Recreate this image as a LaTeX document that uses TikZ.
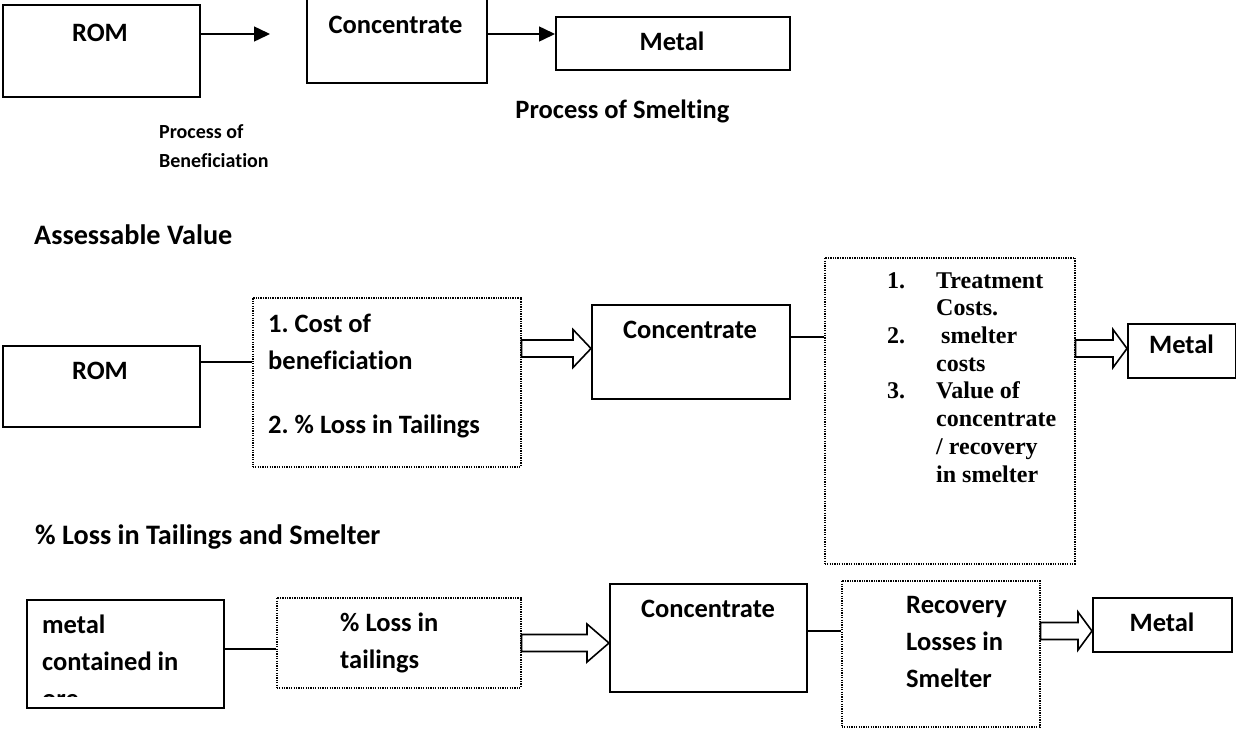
\documentclass[tikz,border=0pt]{standalone}
\usepackage{fontspec}
\setmainfont{Carlito}[Ligatures={NoCommon}]
\newfontfamily\tnr{Liberation Serif}
\usetikzlibrary{arrows.meta,calc}
\frenchspacing
\tikzset{
  box/.style={draw, line width=1.6pt, rectangle, inner sep=0pt, anchor=north west},
  dbox/.style={draw, line width=1.5pt, dash pattern=on 1.3pt off 1.1pt, rectangle, inner sep=0pt, anchor=north west},
  lbl/.style={font=\bfseries\fontsize{26.5}{37}\selectfont, inner sep=0pt, anchor=base},
  lbll/.style={lbl, anchor=base west, align=left},
  heading/.style={font=\bfseries\fontsize{28.2}{37}\selectfont, inner sep=0pt, anchor=base west},
  small/.style={font=\bfseries\fontsize{20}{29}\selectfont, inner sep=0pt, anchor=base west, align=left},
  serif/.style={font=\tnr\bfseries\fontsize{24}{27.7}\selectfont, inner sep=0pt, anchor=base west, align=left},
  conn/.style={line width=1.3pt},
  thinarr/.style={line width=1.5pt, -{Triangle[length=16pt,width=15pt]}},
  fat/.style={draw, fill=white, line width=1.6pt, line join=miter}
}
\newcommand\myfatarrow[3]{%
  \draw[fat] let \p1=(#1), \p2=(#2) in
    (\x1,\y1+8.5pt) -- (\x2-#3,\y1+8.5pt) -- (\x2-#3,\y1+19pt) -- (\x2,\y1)
    -- (\x2-#3,\y1-19pt) -- (\x2-#3,\y1-8.5pt) -- (\x1,\y1-8.5pt) -- cycle;}
\begin{document}
\begin{tikzpicture}[x=1pt,y=-1pt]
\useasboundingbox[fill=white] (0,0) rectangle (1236,729);

% ---------- Row 1 ----------
\node[box, minimum width=197pt, minimum height=92pt] (rom1) at (2,4) {};
\node[box, minimum width=180pt, minimum height=85pt] (conc1) at (306,-3) {};
\node[box, minimum width=234pt, minimum height=53pt] (metal1) at (555,16) {};
\node[lbl] (trom1) at (100,41) {ROM};
\node[lbl] (tconc1) at (395.5,33) {Concentrate};
\node[lbl] (tmetal1) at (672,50) {Metal};
\node[lbl] (tsmelt) at (622.5,118) {Process of Smelting};
\node[small] (tbenef) at (159,167) {Process of\\Beneficiation};
\coordinate (a1e) at (270,34);
\draw[thinarr] (rom1.east |- a1e) -- (a1e);
\draw[thinarr] (conc1.east |- a1e) -- (metal1.west |- a1e);

% ---------- Row 2 ----------
\node[heading] (tassess) at (34,244) {Assessable Value};
\node[box, minimum width=197pt, minimum height=81pt] (rom2) at (2,345) {};
\node[lbl] (trom2) at (100,379) {ROM};
\node[dbox, minimum width=268pt, minimum height=169pt] (d1) at (252,297) {};
\node[lbll] (td1) at (268,433) {1. Cost of\\beneficiation\\[27pt]2. \% Loss in Tailings};
\node[box, minimum width=198pt, minimum height=94pt] (conc2) at (591,304) {};
\node[lbl] (tconc2) at (690,338) {Concentrate};
\node[dbox, minimum width=250pt, minimum height=306pt] (d2) at (824,257) {};
\node[serif] (td2) at (887,482) {\makebox[49pt][l]{1.}Treatment\\
\hspace*{49pt}Costs.\\
\makebox[49pt][l]{2.}\hspace*{5pt}smelter\\
\hspace*{49pt}costs\\
\makebox[49pt][l]{3.}Value of\\
\hspace*{49pt}concentrate\\
\hspace*{49pt}/ recovery\\
\hspace*{49pt}in smelter};
\node[box, minimum width=108pt, minimum height=54pt] (metal2) at (1127,323) {};
\node[lbl] (tmetal2) at (1181.5,353) {Metal};
\draw[conn] (rom2.east |- 0,362) -- (d1.west |- 0,362);
\draw[conn] (conc2.east |- 0,337) -- (d2.west |- 0,337);
\myfatarrow{d1.east |- 0,348.5}{conc2.west |- 0,348.5}{18pt}
\myfatarrow{d2.east |- 0,348.5}{metal2.west |- 0,348.5}{14pt}

% ---------- Row 3 ----------
\node[heading] (tloss) at (35,544) {\% Loss in Tailings and Smelter};
\node[box, minimum width=197pt, minimum height=108pt] (ore) at (26,599) {};
\begin{scope}
  \clip (26,599) rectangle (223,696.5);
  \node[lbll] (tore) at (42,707) {metal\\contained in\\ore};
\end{scope}
\node[dbox, minimum width=244pt, minimum height=90pt] (d3) at (276,597) {};
\node[lbll] (td3) at (340,668) {\% Loss in\\tailings};
\node[box, minimum width=197pt, minimum height=108pt] (conc3) at (609,583) {};
\node[lbl] (tconc3) at (708,617) {Concentrate};
\node[dbox, minimum width=198pt, minimum height=146pt] (d4) at (841,580) {};
\node[lbll] (td4) at (906,687) {Recovery\\Losses in\\Smelter};
\node[box, minimum width=139pt, minimum height=54pt] (metal3) at (1092,597) {};
\node[lbl] (tmetal3) at (1162,631) {Metal};
\draw[conn] (ore.east |- 0,649) -- (d3.west |- 0,649);
\draw[conn] (conc3.east |- 0,631) -- (d4.west |- 0,631);
\myfatarrow{d3.east |- 0,643}{conc3.west |- 0,643}{22pt}
\myfatarrow{d4.east |- 0,631}{metal3.west |- 0,631}{14pt}
\end{tikzpicture}
\end{document}
